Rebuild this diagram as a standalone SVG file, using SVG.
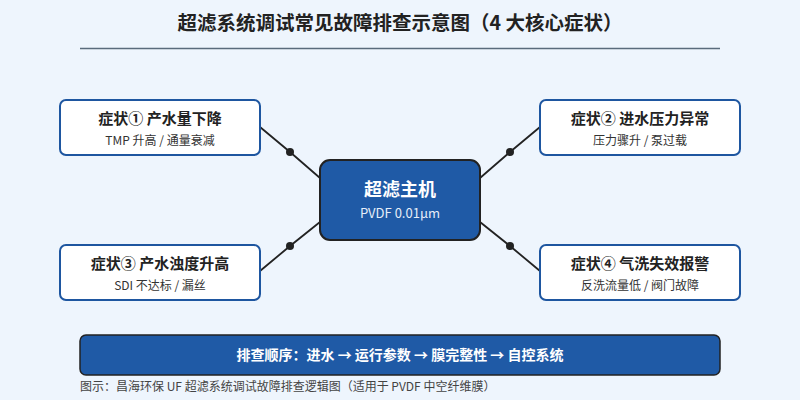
<svg xmlns="http://www.w3.org/2000/svg" width="800" height="400" viewBox="0 0 800 400">
<defs>
<style>
text{font-family:"Noto Sans CJK SC","Noto Sans",sans-serif}
.title{font-size:19.5px;font-weight:bold;fill:#222;text-anchor:middle}
.box{fill:#fff;stroke:#1e56a0;stroke-width:2}
.nt{font-size:15px;font-weight:bold;fill:#222;text-anchor:middle}
.ns{font-size:12px;fill:#333;text-anchor:middle}
.conn{stroke:#222;stroke-width:1.8;fill:none}
.dot{fill:#222}
</style>
</defs>
<rect width="800" height="400" fill="#eef5fd"/>
<text class="title" x="400" y="30">超滤系统调试常见故障排查示意图（4 大核心症状）</text>
<line x1="80" y1="48.5" x2="720" y2="48.5" stroke="#5a6b7c" stroke-width="1.5"/>
<g id="connectors">
<polyline class="conn" points="260,127 290,152 320,178"/>
<polyline class="conn" points="540,127 510,152 480,178"/>
<polyline class="conn" points="260,271 290,246 320,222"/>
<polyline class="conn" points="540,271 510,246 480,222"/>
<circle class="dot" cx="290" cy="152" r="4"/>
<circle class="dot" cx="510" cy="152" r="4"/>
<circle class="dot" cx="290" cy="246" r="4"/>
<circle class="dot" cx="510" cy="246" r="4"/>
</g>
<g id="center">
<rect x="320" y="160" width="160" height="80" rx="10" fill="#1f5aa6" stroke="#222" stroke-width="2"/>
<text x="400" y="196" font-size="18" font-weight="bold" fill="#fff" text-anchor="middle">超滤主机</text>
<text x="400" y="218" font-size="13" fill="#e6eef9" text-anchor="middle">PVDF 0.01μm</text>
</g>
<g id="s1">
<rect class="box" x="60" y="100" width="200" height="55" rx="6"/>
<text class="nt" x="160" y="124">症状① 产水量下降</text>
<text class="ns" x="160" y="145">TMP 升高 / 通量衰减</text>
</g>
<g id="s2">
<rect class="box" x="540" y="100" width="200" height="55" rx="6"/>
<text class="nt" x="640" y="124">症状② 进水压力异常</text>
<text class="ns" x="640" y="145">压力骤升 / 泵过载</text>
</g>
<g id="s3">
<rect class="box" x="60" y="245" width="200" height="55" rx="6"/>
<text class="nt" x="160" y="269">症状③ 产水浊度升高</text>
<text class="ns" x="160" y="290">SDI 不达标 / 漏丝</text>
</g>
<g id="s4">
<rect class="box" x="540" y="245" width="200" height="55" rx="6"/>
<text class="nt" x="640" y="269">症状④ 气洗失效报警</text>
<text class="ns" x="640" y="290">反洗流量低 / 阀门故障</text>
</g>
<g id="sequence">
<rect x="80" y="335" width="640" height="40" rx="6" fill="#1f5aa6" stroke="#222" stroke-width="1.5"/>
<text x="400" y="360" font-size="14" font-weight="bold" fill="#fff" text-anchor="middle">排查顺序：进水 → 运行参数 → 膜完整性 → 自控系统</text>
</g>
<text x="80" y="391" font-size="12" fill="#444">图示：昌海环保 UF 超滤系统调试故障排查逻辑图（适用于 PVDF 中空纤维膜）</text>
</svg>
